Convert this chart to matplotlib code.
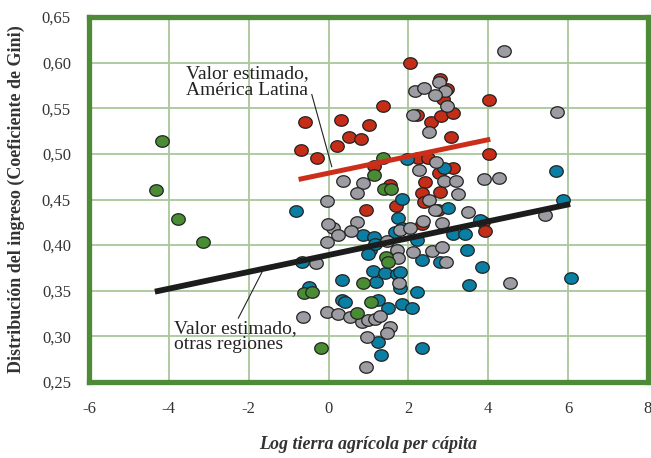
import matplotlib.pyplot as plt
import matplotlib.path as mpath
import numpy as np

# Scatter data: (log arable land per capita, Gini) by region
latam_x = [-0.59, -0.69, -0.29, 2.04, 0.31, 1.37, 1.02, 0.51, 0.81, 0.21, 2.79, 2.97,
           2.22, 2.57, 2.82, 3.12, 2.87, 3.07, 4.02, 4.02, 2.24, 2.49, 3.12, 2.77,
           2.42, 2.34, 2.79, 2.39, 1.69, 0.94, 2.74, 3.87, 3.92, 2.34, 1.14, 1.54]
latam_y = [0.535, 0.504, 0.495, 0.600, 0.537, 0.553, 0.532, 0.519, 0.516, 0.509, 0.582, 0.571,
           0.543, 0.535, 0.542, 0.545, 0.560, 0.519, 0.559, 0.500, 0.495, 0.495, 0.484, 0.479,
           0.469, 0.457, 0.458, 0.447, 0.443, 0.438, 0.439, 0.425, 0.415, 0.423, 0.487, 0.466]

blue_x = [-0.81, -0.66, -0.49, 5.70, 5.88, 1.97, 2.89, 1.84, 2.99, 1.74, 3.80, 0.86,
          1.14, 1.04, 0.99, 3.12, 3.42, 3.47, 2.22, 1.17, 1.67, 2.34, 2.79, 3.85,
          3.52, 6.08, 0.34, 1.19, 1.12, 1.42, 1.72, 1.79, 1.79, 2.22, 0.34, 0.41,
          1.24, 1.49, 1.84, 2.09, 1.24, 1.32, 2.34, 1.84]
blue_y = [0.437, 0.382, 0.354, 0.481, 0.450, 0.494, 0.485, 0.451, 0.441, 0.430, 0.428, 0.411,
          0.409, 0.395, 0.390, 0.412, 0.412, 0.395, 0.406, 0.401, 0.414, 0.384, 0.381, 0.376,
          0.356, 0.364, 0.362, 0.360, 0.372, 0.370, 0.368, 0.371, 0.353, 0.349, 0.340, 0.338,
          0.340, 0.331, 0.335, 0.331, 0.294, 0.280, 0.287, 0.419]

gray_x = [4.40, 5.73, 2.17, 2.39, 2.77, 2.92, 2.67, 2.97, 2.12, 2.52, 2.69, 2.27,
          2.89, 3.20, 3.25, 3.90, 4.27, 2.52, 2.67, 3.50, 5.43, 0.36, 0.86, 0.71,
          -0.04, 0.11, 0.71, 0.56, 0.24, -0.04, 1.79, 2.04, 1.47, 1.72, 2.12, -0.32,
          -0.64, -0.04, -0.01, 0.24, 0.54, 0.84, 0.99, 1.17, 1.29, 1.54, 1.47, 0.96,
          0.94, 1.74, 1.77, 2.37, 2.84, 2.59, 2.84, 2.94, 4.55]
gray_y = [0.613, 0.546, 0.569, 0.572, 0.579, 0.569, 0.564, 0.552, 0.543, 0.524, 0.491, 0.482,
          0.470, 0.470, 0.456, 0.472, 0.474, 0.450, 0.438, 0.436, 0.433, 0.470, 0.468, 0.457,
          0.448, 0.419, 0.425, 0.415, 0.411, 0.403, 0.417, 0.419, 0.404, 0.395, 0.393, 0.380,
          0.321, 0.327, 0.423, 0.325, 0.321, 0.316, 0.318, 0.319, 0.322, 0.310, 0.304, 0.299,
          0.267, 0.386, 0.359, 0.426, 0.424, 0.394, 0.398, 0.381, 0.358]

green_x = [-4.17, -4.32, -3.77, -3.15, -0.61, -0.41, -0.19, 1.37, 1.14, 1.39, 1.57, 1.44,
           1.49, 0.86, 1.07, 0.71]
green_y = [0.514, 0.460, 0.429, 0.403, 0.347, 0.349, 0.287, 0.495, 0.477, 0.462, 0.462, 0.387,
           0.381, 0.359, 0.338, 0.326]

# fitted lines (end points)
fit_latam_x = [-0.75, 4.05]
fit_latam_y = [0.472, 0.516]
fit_other_x = [-4.35, 6.05]
fit_other_y = [0.349, 0.445]

xticks = [-6, -4, -2, 0, 2, 4, 6, 8]
yticks = [0.25, 0.30, 0.35, 0.40, 0.45, 0.50, 0.55, 0.60, 0.65]

plt.rcParams['font.family'] = ['Liberation Serif', 'DejaVu Serif']

frame_green = '#4e8b38'
grid_green = '#a8c79c'

# slightly wide ellipse marker
t = np.linspace(0, 2 * np.pi, 60)
ell = mpath.Path(np.column_stack([np.cos(t), 0.85 * np.sin(t)]), closed=True)

fig = plt.figure(figsize=(6.51, 4.58), dpi=100)
ax = fig.add_axes([0.1367, 0.1659, 0.8587, 0.797])

mk = dict(marker=ell, s=95, edgecolors='#222222', linewidths=0.9, zorder=3)
ax.scatter(latam_x, latam_y, c='#c42d17', **mk)
ax.scatter(blue_x, blue_y, c='#0a7fa3', **mk)
ax.scatter(gray_x, gray_y, c='#9c9ca2', **mk)
ax.scatter(green_x, green_y, c='#4a8c34', **mk)

ax.plot(fit_latam_x, fit_latam_y, color='#cc2e1a', lw=3.6, solid_capstyle='butt', zorder=5)
ax.plot(fit_other_x, fit_other_y, color='#1c1c1c', lw=4.2, solid_capstyle='butt', zorder=5)

# annotations
ax.text(-3.57, 0.597, 'Valor estimado,\nAmérica Latina', fontsize=14, va='top', ha='left',
        color='#222222', linespacing=0.95, zorder=6)
ax.plot([-0.42, 0.08], [0.565, 0.486], color='#222222', lw=0.8, zorder=6)
ax.text(-3.87, 0.318, 'Valor estimado,\notras regiones', fontsize=14, va='top', ha='left',
        color='#222222', linespacing=0.95, zorder=6)
ax.plot([-1.66, -2.26], [0.371, 0.320], color='#222222', lw=0.8, zorder=6)

ax.set_xlim(-6, 8)
ax.set_ylim(0.25, 0.65)
ax.set_xticks(xticks)
ax.set_yticks(yticks)
ax.set_xticklabels([str(v) for v in xticks])
ax.set_yticklabels([f'{v:.2f}'.replace('.', ',') for v in yticks])
ax.tick_params(length=0, labelsize=12, labelcolor='#333333')
ax.tick_params(axis='x', pad=14)
ax.tick_params(axis='y', pad=13)
ax.grid(True, color=grid_green, lw=1.3, zorder=0)
ax.set_axisbelow(True)
for sp in ax.spines.values():
    sp.set_color(frame_green)
    sp.set_linewidth(3.8)

ax.set_xlabel('Log tierra agrícola per cápita', fontsize=13, fontstyle='italic',
              fontweight='bold', color='#333333', labelpad=13)
ax.set_ylabel('Distribución del ingreso (Coeficiente de Gini)', fontsize=13,
              fontweight='bold', color='#333333', labelpad=12)

fig.savefig('out.png', dpi=100)
